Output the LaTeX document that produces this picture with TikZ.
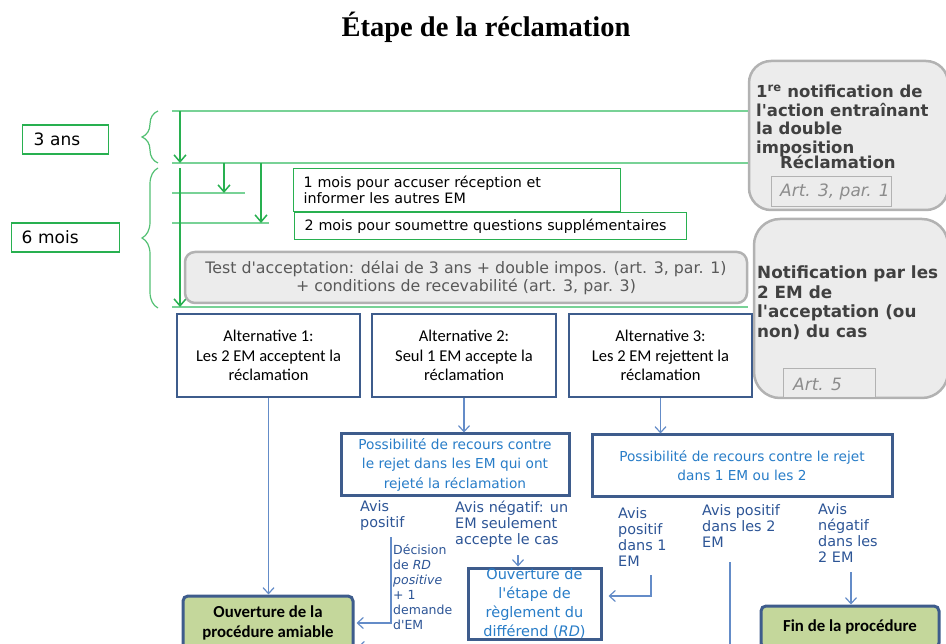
\documentclass[tikz,border=0pt]{standalone}
\usepackage{fontspec}
\setmainfont{DejaVu Sans}
\newfontfamily\titlefont{Liberation Serif}
\newfontfamily\califont{Carlito}
\usetikzlibrary{arrows.meta,decorations.pathreplacing}
\definecolor{mgreen}{RGB}{40,176,80}
\definecolor{lgreen}{RGB}{120,210,150}
\definecolor{dblue}{RGB}{62,92,140}
\definecolor{lblue}{RGB}{100,140,200}
\definecolor{tblue}{RGB}{40,125,200}
\definecolor{nblue}{RGB}{45,85,150}
\definecolor{pgreen}{RGB}{196,215,155}
\definecolor{gfill}{RGB}{236,236,236}
\definecolor{gline}{RGB}{178,178,178}
\def\fs#1#2{\fontsize{#1}{#2}\selectfont}
\newcommand{\ap}{\textquotesingle}
\tikzset{
  tick/.style={lgreen, line width=1.5pt},
  garrow/.style={mgreen, line width=1.5pt, -{Straight Barb[length=7pt,width=12pt]}},
  curly/.style={decorate, decoration={brace, amplitude=16pt}, draw=mgreen!80, line width=1.2pt},
  labelbox/.style={draw=mgreen, line width=1.3pt, minimum height=29pt, inner xsep=10pt, anchor=west, align=left, font=\fs{17}{20}},
  timebox/.style={draw=mgreen, line width=1.3pt, inner xsep=10pt, inner ysep=0pt, anchor=north west, align=left, font=\fs{14.3}{16}},
  greybox/.style={draw=gline, line width=2.5pt, fill=gfill},
  artbox/.style={draw=gline, line width=1pt, fill=gfill},
  arttext/.style={anchor=west, inner sep=0pt, text=black!45, font=\itshape\fs{17}{20}},
  notiftext/.style={inner sep=0pt, align=left, text=black!75, font=\bfseries\fs{16.5}{18.5}},
  altbox/.style={draw=dblue, line width=2.5pt, fill=white, align=center, font=\califont\fs{16.5}{19.5}},
  recbox/.style={draw=dblue, line width=3pt, fill=white, align=center, text=tblue, font=\fs{13.7}{19.5}},
  endbox/.style={draw=dblue, line width=3pt, fill=pgreen, rounded corners=5pt, align=center, font=\califont\bfseries\fs{16.8}{20}},
  avis/.style={text=nblue, align=left, inner sep=0pt, anchor=west, font=\fs{14.4}{16}},
  barrow/.style={lblue, line width=1.2pt, -{Straight Barb[length=6pt,width=11pt]}},
}

\begin{document}
\begin{tikzpicture}[x=1pt,y=-1pt]
	%%%%% START %%%%%
	\useasboundingbox (0,0) rectangle (946,644);
	\clip (0,0) rectangle (946,644);
	
	\node[font=\titlefont\bfseries\fs{28.5}{32}, anchor=base] (title) at (486,37) {Étape de la réclamation};
	
	%% right side notices
	\node[greybox, rounded corners=22pt, minimum width=199pt, minimum height=149pt] (notif1) at (848.5,135.5) {};
	\node[artbox, minimum width=120pt, minimum height=30pt] (art1) at (831,192) {};
	\node[arttext] (art1txt) at (780,192) {Art. 3, par. 1};
	\node[notiftext, anchor=north west] (notif1txt) at (756,85) {1\textsuperscript{re} notification de\\l\ap action entraînant\\la double\\imposition\\[-3pt]\hspace*{24pt}Réclamation};
	
	\node[greybox, rounded corners=26pt, minimum width=194pt, minimum height=179pt] (notif2) at (851,308.5) {};
	\node[artbox, minimum width=92pt, minimum height=29pt] (art5) at (829,383.5) {};
	\node[arttext] (art5txt) at (793,384) {Art. 5};
	\node[notiftext, anchor=west, font=\bfseries\fs{16.8}{19.5}] (notif2txt) at (757,302.5) {Notification par les\\2 EM de\\l\ap acceptation (ou\\non) du cas};
	
	%% time line
	\coordinate (y0) at (172,111);
	\coordinate (y1) at (172,163);
	\coordinate (m1) at (172,193);
	\coordinate (m2) at (172,223);
	\coordinate (y2) at (172,307);
	
	\draw[tick] (y0) -- (y0 -| notif1.west);
	\draw[tick] (y1) -- (y1 -| notif1.west);
	\draw[tick] (m1) -- ++(73,0);
	\draw[tick] (m2) -- ++(97,0);
	\draw[tick] (y2) -- (y2 -| notif1.west);
	
	\draw[garrow] ([xshift=8pt]y0) -- ([xshift=8pt]y1);
	\draw[garrow] ([shift={(8,5)}]y1) -- ([xshift=8pt]y2);
	\draw[garrow] ([xshift=52pt]y1) -- ([xshift=52pt]m1);
	\draw[garrow] ([xshift=89pt]y1) -- ([xshift=89pt]m2);
	
	\draw[curly] ([xshift=-14pt]y1) -- ([xshift=-14pt]y0);
	\draw[curly] ([shift={(-14,1)}]y2) -- ([shift={(-14,5)}]y1);
	
	\node[labelbox, text width=64pt, inner xsep=11pt] (ans) at (22,139.5) {3 ans};
	\node[labelbox, text width=88pt] (mois) at (11,237.5) {6 mois};
	
	\node[timebox, text width=307pt, minimum height=43pt] (accuse) at (293,168) {1 mois pour accuser réception et\\informer les autres EM};
	\node[timebox, text width=372pt, minimum height=27pt] (quest) at (294,212) {2 mois pour soumettre questions supplémentaires};
	
	\node[greybox, rounded corners=10pt, minimum width=562pt, minimum height=51pt, align=center, text=black!65, font=\fs{15.8}{18}] (test) at (466,277.5) {Test d\ap acceptation: délai de 3 ans + double impos. (art. 3, par. 1)\\+ conditions de recevabilité (art. 3, par. 3)};
	
	%% alternatives
	\node[altbox, minimum width=183pt, minimum height=83pt] (alt1) at (268.5,355.5) {Alternative 1:\\Les 2 EM acceptent la\\réclamation};
	\node[altbox, minimum width=184pt, minimum height=83pt] (alt2) at (464,355.5) {Alternative 2:\\Seul 1 EM accepte la\\réclamation};
	\node[altbox, minimum width=183pt, minimum height=83pt] (alt3) at (660.5,355.5) {Alternative 3:\\Les 2 EM rejettent la\\réclamation};
	
	\node[recbox, minimum width=228pt, minimum height=61pt] (rec1) at (455,464.5) {Possibilité de recours contre\\le rejet dans les EM qui ont\\rejeté la réclamation};
	\node[recbox, minimum width=300pt, minimum height=61pt] (rec2) at (742,465.5) {Possibilité de recours contre le rejet\\dans 1 EM ou les 2};
	
	\node[endbox, minimum width=170pt, minimum height=54pt] (ouv) at (268,623) {Ouverture de la\\procédure amiable};
	\node[recbox, inner ysep=0pt, minimum width=133pt, minimum height=71pt, font=\fs{14.5}{19}] (rd) at (534.5,603.5) {Ouverture de\\l\ap étape de\\règlement du\\différend (\textit{RD})};
	\node[endbox, minimum width=178pt, minimum height=42pt] (fin) at (850,627) {Fin de la procédure};
	
	\node[avis] (apos) at (360,516) {Avis\\positif};
	\node[avis] (aneg) at (455,524) {Avis négatif: un\\EM seulement\\accepte le cas};
	\node[avis, font=\fs{12.5}{15}] (dec) at (393,587) {Décision\\de \textit{RD}\\\textit{positive}\\+ 1\\demande\\d\ap EM};
	\node[avis] (apos1) at (618,537) {Avis\\positif\\dans 1\\EM};
	\node[avis] (apos2) at (702,526) {Avis positif\\dans les 2\\EM};
	\node[avis] (aneg2) at (818,533) {Avis\\négatif\\dans les\\2 EM};
	
	%% connectors
	\coordinate (dtop) at (391,537);
	\coordinate (accd) at (518,555);
	\coordinate (p1) at (651,575);
	\coordinate (p2) at (730,562);
	\coordinate (n2) at (851,572);
	
	\draw[barrow] (alt1.south) -- (alt1.south |- ouv.north);
	\draw[barrow] (alt2.south) -- (alt2.south |- rec1.north);
	\draw[barrow] (alt3.south) -- (alt3.south |- rec2.north);
	\draw[barrow, shorten >=2pt] (dtop) |- (ouv.east);
	\draw[barrow] (accd) -- (accd |- rd.north);
	\draw[barrow, shorten >=6pt] (p1) |- ([yshift=7.5pt]rd.east);
	\draw[barrow, shorten >=3pt] (p2) |- ([yshift=-24pt]ouv.east);
	\draw[barrow] (n2) -- (n2 |- fin.north);
	
	%%%%% END %%%%%
\end{tikzpicture}
\end{document}
